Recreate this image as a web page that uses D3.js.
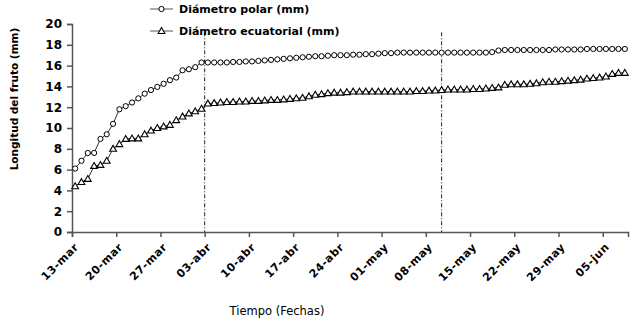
<!DOCTYPE html>
<html lang="es">
<head>
<meta charset="UTF-8">
<title>Longitud del fruto</title>
<script src="https://d3js.org/d3.v7.min.js"></script>
<style>
  body { margin: 0; background: #fff; }
  svg { display: block; }
  text { font-family: "DejaVu Sans", sans-serif; fill: #000; }
</style>
</head>
<body>
<div id="chart"></div>
<script>
// one measurement per day starting at 13-mar
const firstDay = "2011-03-13";
const lastTick = "2011-06-09";

const polar = [
  6.1, 6.85, 7.6, 7.6, 8.95, 9.4, 10.4, 11.8, 12.1, 12.45,
  12.85, 13.3, 13.65, 13.95, 14.25, 14.6, 14.85, 15.55, 15.65, 15.85,
  16.3, 16.3, 16.3, 16.3, 16.3, 16.35, 16.35, 16.4, 16.4, 16.45,
  16.5, 16.55, 16.6, 16.65, 16.7, 16.75, 16.8, 16.85, 16.9, 16.9,
  16.95, 17.0, 17.0, 17.0, 17.05, 17.05, 17.1, 17.1, 17.15, 17.2,
  17.2, 17.25, 17.25, 17.25, 17.25, 17.25, 17.25, 17.25, 17.25, 17.25,
  17.25, 17.25, 17.25, 17.25, 17.25, 17.25, 17.3, 17.45, 17.5, 17.5,
  17.5, 17.5, 17.5, 17.5, 17.5, 17.5, 17.55, 17.55, 17.55, 17.55,
  17.55, 17.6, 17.6, 17.6, 17.6, 17.6, 17.6, 17.6
];

const ecuatorial = [
  4.4, 4.8, 5.1, 6.35, 6.45, 6.85, 8.0, 8.45, 8.95, 9.0,
  9.0, 9.4, 9.75, 10.0, 10.15, 10.3, 10.75, 11.1, 11.4, 11.6,
  11.85, 12.35, 12.4, 12.45, 12.5, 12.5, 12.55, 12.55, 12.6, 12.6,
  12.65, 12.7, 12.7, 12.75, 12.8, 12.85, 12.9, 13.05, 13.2, 13.25,
  13.35, 13.4, 13.4, 13.45, 13.5, 13.5, 13.5, 13.5, 13.5, 13.5,
  13.5, 13.5, 13.5, 13.5, 13.55, 13.55, 13.6, 13.6, 13.65, 13.7,
  13.7, 13.7, 13.7, 13.75, 13.75, 13.8, 13.85, 13.9, 14.15, 14.2,
  14.2, 14.2, 14.25, 14.3, 14.4, 14.45, 14.45, 14.5, 14.55, 14.6,
  14.65, 14.75, 14.8, 14.85, 14.95, 15.2, 15.3, 15.3
];

const tickDates = ["2011-03-13", "2011-03-20", "2011-03-27", "2011-04-03", "2011-04-10",
  "2011-04-17", "2011-04-24", "2011-05-01", "2011-05-08", "2011-05-15",
  "2011-05-22", "2011-05-29", "2011-06-05"];
const meses = ["ene", "feb", "mar", "abr", "may", "jun", "jul", "ago", "sep", "oct", "nov", "dic"];
const yTicks = [0, 2, 4, 6, 8, 10, 12, 14, 16, 18, 20];
const markerLines = ["2011-04-03", "2011-05-10T12:00"];
const legendNames = ["Diámetro polar (mm)", "Diámetro ecuatorial (mm)"];

const width = 635, height = 323;
const mLeft = 72, mRight = 628, mTop = 24, mBottom = 232;

const parse = s => new Date(s + (s.length > 10 ? "Z" : "T00:00Z"));
const start = parse(firstDay);
const dayOf = i => new Date(start.getTime() + (i + 0.5) * 864e5);

const x = d3.scaleUtc().domain([start, parse(lastTick)]).range([mLeft, mRight]);
const y = d3.scaleLinear().domain([0, 20]).range([mBottom, mTop]);

const svg = d3.select("#chart").append("svg")
  .attr("width", width).attr("height", height);

// dash-dot reference lines
svg.selectAll(".ref")
  .data(markerLines)
  .enter().append("line")
  .attr("x1", d => x(parse(d))).attr("x2", d => x(parse(d)))
  .attr("y1", y(19.2)).attr("y2", y(0))
  .attr("stroke", "#222").attr("stroke-width", 1)
  .attr("stroke-dasharray", "4,2,1,2");

// axes
const yAxis = svg.append("g")
  .attr("transform", `translate(${mLeft},0)`)
  .call(d3.axisLeft(y).tickValues(yTicks).tickSize(5).tickPadding(5));
yAxis.selectAll("text").attr("font-size", 12).attr("font-weight", "bold");

const xAxis = svg.append("g")
  .attr("transform", `translate(0,${mBottom})`)
  .call(d3.axisBottom(x).tickValues(tickDates.map(parse)).tickSize(5)
    .tickFormat(d => d3.utcFormat("%d")(d) + "-" + meses[d.getUTCMonth()]));
xAxis.selectAll("text")
  .attr("font-size", 11).attr("font-weight", "bold")
  .attr("letter-spacing", 0.5)
  .attr("text-anchor", "end")
  .attr("transform", "translate(4,13) rotate(-45)")
  .attr("dy", "0.35em").attr("y", 0).attr("x", 0);

svg.selectAll(".domain, .tick line").attr("stroke", "#555").attr("stroke-width", 1.5);

// series
const series = [polar, ecuatorial];
const line = d3.line().x((d, i) => x(dayOf(i))).y(d => y(d));
series.forEach(s => {
  svg.append("path").datum(s)
    .attr("d", line).attr("fill", "none")
    .attr("stroke", "#000").attr("stroke-width", 0.8);
});

const tri = d3.symbol().type(d3.symbolTriangle).size(20);

svg.selectAll(".c")
  .data(polar)
  .enter().append("circle")
  .attr("cx", (d, i) => x(dayOf(i))).attr("cy", d => y(d))
  .attr("r", 2.6).attr("fill", "#fff").attr("stroke", "#000").attr("stroke-width", 1);

svg.selectAll(".t")
  .data(ecuatorial)
  .enter().append("path")
  .attr("d", tri)
  .attr("transform", (d, i) => `translate(${x(dayOf(i))},${y(d) + 0.5})`)
  .attr("fill", "#fff").attr("stroke", "#000").attr("stroke-width", 1.1);

// legend
const legend = svg.selectAll(".lg")
  .data(legendNames)
  .enter().append("g")
  .attr("transform", (d, i) => `translate(150,${9 + i * 22})`);
legend.append("line").attr("x1", 0).attr("x2", 23)
  .attr("stroke", "#555").attr("stroke-width", 1);
legend.filter((d, i) => i === 0).append("circle")
  .attr("cx", 11.5).attr("r", 2.6).attr("fill", "#fff").attr("stroke", "#000");
legend.filter((d, i) => i === 1).append("path")
  .attr("d", tri).attr("transform", "translate(11.5,0.5)")
  .attr("fill", "#fff").attr("stroke", "#000").attr("stroke-width", 1.1);
legend.append("text").attr("x", 29).attr("dy", "0.35em")
  .attr("font-size", 11).attr("font-weight", "bold")
  .text(d => d);

// axis titles
svg.append("text")
  .attr("transform", "translate(18,99) rotate(-90)")
  .attr("text-anchor", "middle")
  .attr("font-size", 10.5).attr("font-weight", "bold")
  .text("Longitud del fruto (mm)");

svg.append("text")
  .attr("x", 277).attr("y", 315)
  .attr("text-anchor", "middle")
  .attr("font-size", 11.5)
  .text("Tiempo (Fechas)");
</script>
</body>
</html>
